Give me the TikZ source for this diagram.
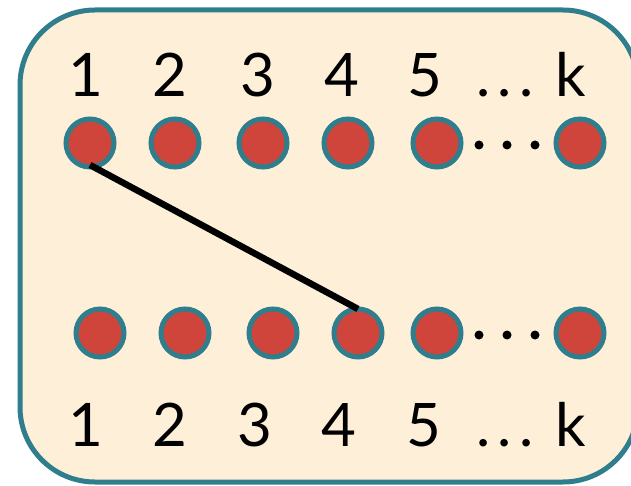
\documentclass[tikz,border=0pt]{standalone}
\usepackage{fontspec}
\setmainfont{Lato}
\usepackage{tikz}
\usetikzlibrary{positioning, calc}

\definecolor{frameteal}{HTML}{2F7E8D}
\definecolor{cream}{HTML}{FEF0D8}
\definecolor{dotred}{HTML}{CF453B}

\newcommand{\wideldots}{.\kern7pt.\kern7pt.}

\begin{document}
\begin{tikzpicture}[
    x=1pt, y=-1pt,
    vertex/.style={circle, draw=frameteal, fill=dotred, line width=5pt, minimum size=48pt, inner sep=0pt},
    idx/.style={font=\fontsize{60}{60}\selectfont, inner sep=0pt, anchor=base, text=black},
    link/.style={line width=6.5pt, black},
    frame/.style={draw=frameteal, fill=cream, line width=5pt, rounded corners=75pt}
]
    \useasboundingbox (0,0) rectangle (631,486);

    % ================= FRAME =================
    \draw[frame] (20,10) rectangle (638,482);

    % ================= TOP ROW =================
    \node[idx] (tl1) at (86,97) {1};
    \node[idx] (tl2) at (170,97) {2};
    \node[idx] (tl3) at (258,97) {3};
    \node[idx] (tl4) at (342,97) {4};
    \node[idx] (tl5) at (425,97) {5};
    \node[idx] (tldots) at (505,97) {\wideldots};
    \node[idx] (tlk) at (571,97) {k};

    \node[vertex] (t1) at (90,143) {};
    \node[vertex] (t2) at (175,143) {};
    \node[vertex] (t3) at (263,143) {};
    \node[vertex] (t4) at (348,143) {};
    \node[vertex] (t5) at (437,143) {};
    \node[vertex] (tk) at (580,143) {};
    \foreach \x in {479,507,535}
        \fill (\x,145) circle (4.5pt);

    % ================= BOTTOM ROW =================
    \node[vertex] (b1) at (100,333) {};
    \node[vertex] (b2) at (185,333) {};
    \node[vertex] (b3) at (273,333) {};
    \node[vertex] (b4) at (358,333) {};
    \node[vertex] (b5) at (437,333) {};
    \node[vertex] (bk) at (580,333) {};
    \foreach \x in {479,507,535}
        \fill (\x,335) circle (4.5pt);

    \node[idx] (bl1) at (86,446) {1};
    \node[idx] (bl2) at (170,446) {2};
    \node[idx] (bl3) at (255,446) {3};
    \node[idx] (bl4) at (339,446) {4};
    \node[idx] (bl5) at (424,446) {5};
    \node[idx] (bldots) at (505,446) {\wideldots};
    \node[idx] (blk) at (571,446) {k};

    % matching edge
    \draw[link] ($(t1.center)+(0,22)$) -- ($(b4.center)+(0,-24)$);

\end{tikzpicture}
\end{document}
